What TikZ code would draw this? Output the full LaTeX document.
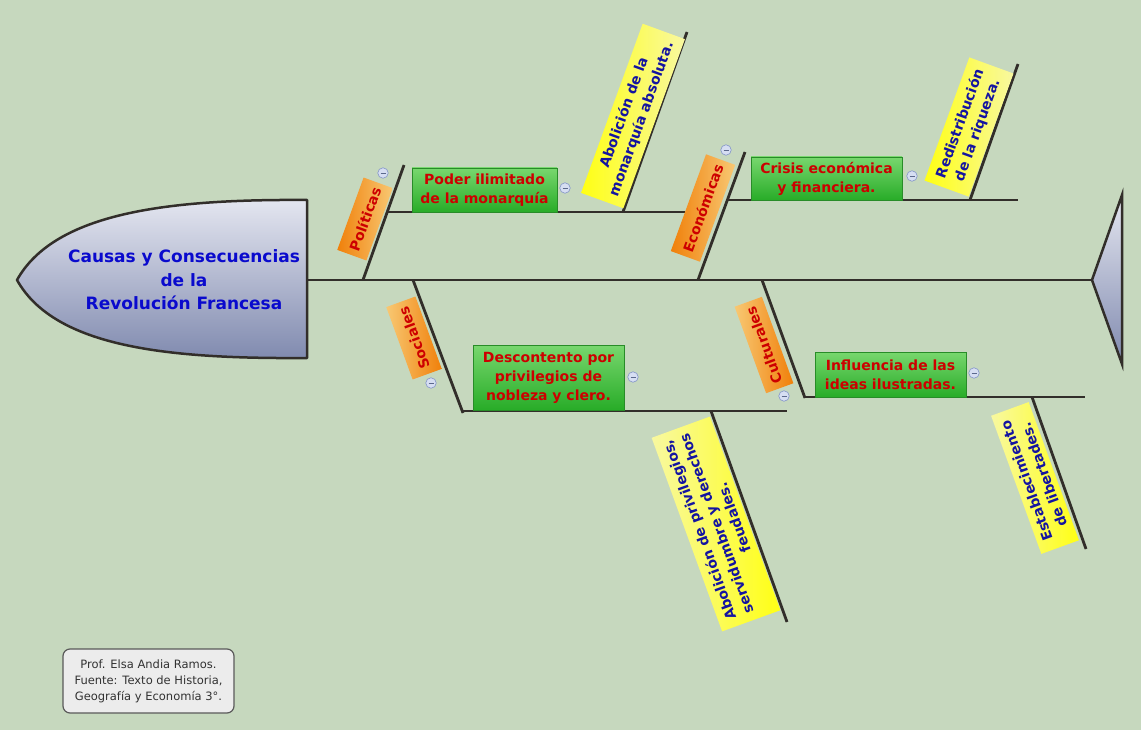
\documentclass[tikz,border=0pt]{standalone}
\usepackage{fontspec}
\setmainfont{DejaVu Sans}
\definecolor{bg}{RGB}{198,216,190}
\definecolor{bone}{RGB}{50,46,42}
\definecolor{redtxt}{RGB}{205,0,0}
\definecolor{bluetxt}{RGB}{20,20,160}
\definecolor{titleblue}{RGB}{10,10,205}
\definecolor{headtop}{RGB}{228,230,240}
\definecolor{headbot}{RGB}{128,138,175}
\definecolor{ordark}{RGB}{240,128,10}
\definecolor{orlight}{RGB}{248,200,115}
\definecolor{yedark}{RGB}{255,255,20}
\definecolor{yelight}{RGB}{248,248,160}
\definecolor{grtop}{RGB}{120,215,110}
\definecolor{grbot}{RGB}{40,172,40}
\definecolor{grline}{RGB}{40,140,40}
\definecolor{minfill}{RGB}{214,222,242}
\definecolor{mindraw}{RGB}{130,148,200}
\definecolor{notefill}{RGB}{236,236,236}
\definecolor{notedraw}{RGB}{90,90,90}
\definecolor{notetxt}{RGB}{50,50,50}
\begin{document}
\begin{tikzpicture}[x=1pt,y=-1pt,
  boneline/.style={draw=bone,line width=2.8pt},
  catbox/.style={inner sep=0pt,left color=ordark,right color=orlight,
     text=redtxt,font=\fontsize{14}{18}\selectfont\bfseries},
  catboxlow/.style={catbox,left color=orlight,right color=ordark},
  effbox/.style={inner sep=0pt,left color=yedark,right color=yelight,
     text=bluetxt,align=center,font=\fontsize{14}{18.5}\selectfont\bfseries},
  effboxlow/.style={effbox,left color=yelight,right color=yedark},
  causebox/.style={inner sep=0pt,top color=grtop,bottom color=grbot,draw=grline,line width=0.4pt,
     text=redtxt,align=center,font=\fontsize{14}{19}\selectfont\bfseries},
  minusicon/.style={circle,minimum size=10.5pt,inner sep=0pt,fill=minfill,draw=mindraw,line width=0.6pt,
     path picture={\draw[mindraw!70!black,line width=0.8pt]
       ([xshift=-2.5pt]path picture bounding box.center) -- ([xshift=2.5pt]path picture bounding box.center);}},
]
\useasboundingbox (0,0) rectangle (1141,730);
\fill[bg] (0,0) rectangle (1141,730);

% head
\draw[draw=bone,line width=2.5pt,top color=headtop,bottom color=headbot,line join=round]
  (17,280) .. controls (55,212) and (170,199) .. (307,200) -- (307,358)
  .. controls (170,359) and (55,348) .. (17,280) -- cycle;
\node[text=titleblue,align=center,font=\fontsize{17}{23.5}\selectfont\bfseries] (title) at (184,280)
  {Causas y Consecuencias\\de la\\Revolución Francesa};

% tail
\draw[draw=bone,line width=2.5pt,top color=headtop,bottom color=headbot,line join=miter]
  (1092,280) -- (1122,195) -- (1122,364) -- cycle;

% coordinates
\coordinate (spL) at (307,280);
\coordinate (spR) at (1092,280);
\coordinate (b1a) at (363,280);  \coordinate (b1b) at (404,165);
\coordinate (s1a) at (387,212);  \coordinate (s1b) at (685,212);
\coordinate (e1a) at (623,212);  \coordinate (e1b) at (687,32);
\coordinate (b2a) at (698,280);  \coordinate (b2b) at (745,152);
\coordinate (s2a) at (727,200);  \coordinate (s2b) at (1018,200);
\coordinate (e2a) at (970,200);  \coordinate (e2b) at (1018,64);
\coordinate (b3a) at (413,280);  \coordinate (b3b) at (463,413);
\coordinate (s3a) at (462,411);  \coordinate (s3b) at (787,411);
\coordinate (e3a) at (711,411);  \coordinate (e3b) at (787,622);
\coordinate (b4a) at (762,280);  \coordinate (b4b) at (805,398);
\coordinate (s4a) at (804,397);  \coordinate (s4b) at (1085,397);
\coordinate (e4a) at (1032,397); \coordinate (e4b) at (1086,549);

% spine and bones
\draw[boneline] (spL) -- (spR);
\draw[boneline] (b1a) -- (b1b);
\draw[boneline] (s1a) -- (s1b);
\draw[boneline] (e1a) -- (e1b);
\draw[boneline] (b2a) -- (b2b);
\draw[boneline] (s2a) -- (s2b);
\draw[boneline] (e2a) -- (e2b);
\draw[boneline] (b3a) -- (b3b);
\draw[boneline] (s3a) -- (s3b);
\draw[boneline] (e3a) -- (e3b);
\draw[boneline] (b4a) -- (b4b);
\draw[boneline] (s4a) -- (s4b);
\draw[boneline] (e4a) -- (e4b);

% category labels
\node[catbox,rotate=70,minimum width=77pt,minimum height=31pt] (pol) at (365,219) {Políticas};
\node[catbox,rotate=70,minimum width=103pt,minimum height=31pt] (eco) at (703,208) {Económicas};
\node[catboxlow,rotate=110,minimum width=77pt,minimum height=31pt] (soc) at (414,338) {Sociales};
\node[catboxlow,rotate=110,minimum width=92pt,minimum height=29pt] (cul) at (764,345) {Culturales};

% causes
\node[causebox,minimum width=145pt,minimum height=44pt] (pod) at (484.5,190) {Poder ilimitado\\de la monarquía};
\node[causebox,minimum width=151pt,minimum height=43pt] (cri) at (826.5,178.5) {Crisis económica\\y financiera.};
\node[causebox,minimum width=151pt,minimum height=65pt] (des) at (548.5,377.5) {Descontento por\\privilegios de\\nobleza y clero.};
\node[causebox,minimum width=151pt,minimum height=45pt] (inf) at (890.5,374.5) {Influencia de las\\ideas ilustradas.};

% consequences
\node[effbox,rotate=70,minimum width=180pt,minimum height=45pt] (abm) at (633,116) {Abolición de la\\monarquía absoluta.};
\node[effbox,rotate=70,minimum width=131pt,minimum height=47pt] (red) at (969,127) {Redistribución\\de la riqueza.};
\node[effboxlow,rotate=110,minimum width=206pt,minimum height=62pt] (abp) at (716,524) {Abolición de privilegios,\\servidumbre y derechos\\feudales.};
\node[effboxlow,rotate=110,minimum width=147pt,minimum height=40pt] (est) at (1035,478) {Establecimiento\\de libertades.};

% collapse icons
\node[minusicon] (m1) at (383,173) {};
\node[minusicon] (m2) at (565,188) {};
\node[minusicon] (m3) at (726,150) {};
\node[minusicon] (m4) at (912,176) {};
\node[minusicon] (m5) at (431,383) {};
\node[minusicon] (m6) at (633,377) {};
\node[minusicon] (m7) at (784,396) {};
\node[minusicon] (m8) at (974,373) {};

% note
\node[draw=notedraw,fill=notefill,line width=1.2pt,rounded corners=7pt,
  minimum width=171pt,minimum height=64pt,inner sep=0pt,align=center,text=notetxt,
  font=\fontsize{11.5}{16}\selectfont] (note) at (148.5,681)
  {Prof. Elsa Andia Ramos.\\Fuente: Texto de Historia,\\Geografía y Economía 3°.};
\end{tikzpicture}
\end{document}
